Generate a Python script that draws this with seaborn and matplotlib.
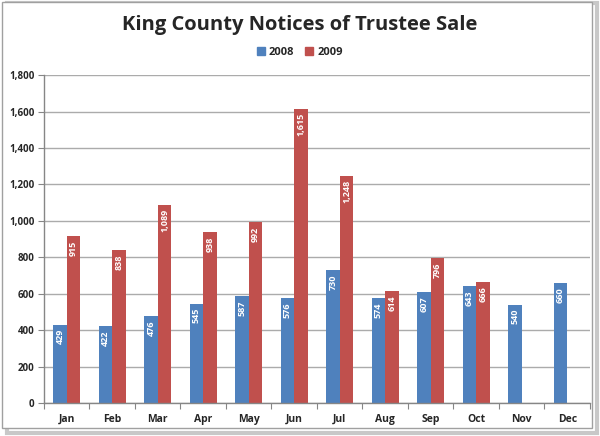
import numpy as np
import pandas as pd
import matplotlib
matplotlib.use("Agg")
import matplotlib.pyplot as plt
from matplotlib.patches import Rectangle
from matplotlib.ticker import FuncFormatter, FixedLocator
import matplotlib.transforms as mtransforms
import seaborn as sns

months = ["Jan", "Feb", "Mar", "Apr", "May", "Jun", "Jul", "Aug", "Sep", "Oct", "Nov", "Dec"]
values_2008 = [429, 422, 476, 545, 587, 576, 730, 574, 607, 643, 540, 660]
values_2009 = [915, 838, 1089, 938, 992, 1615, 1248, 614, 796, 666, np.nan, np.nan]
years = ["2008", "2009"]
colors = ["#4F81BD", "#C0504D"]

df = pd.DataFrame({
    "month": months * 2,
    "year": [years[0]] * 12 + [years[1]] * 12,
    "value": values_2008 + values_2009,
})

sns.set_theme(style="white")
plt.rcParams["font.family"] = ["Open Sans", "DejaVu Sans"]

fig = plt.figure(figsize=(6.0, 4.36), dpi=100)
ax = fig.add_axes([0.0733, 0.0757, 0.910, 0.752])

sns.barplot(data=df, x="month", y="value", hue="year", palette=colors,
            width=0.6, ax=ax, legend=False, saturation=1, edgecolor="none")

ax.set_ylim(0, 1800)
ax.set_xlim(-0.5, 11.5)
ax.set_yticks(np.arange(0, 1801, 200))
ax.yaxis.set_major_formatter(FuncFormatter(lambda v, p: f"{int(v):,}"))
ax.yaxis.grid(True, color="#ABABAB", linewidth=1.0)
ax.set_axisbelow(True)
ax.set_xlabel("")
ax.set_ylabel("")

for side in ["top", "right"]:
    ax.spines[side].set_visible(False)
for side in ["left", "bottom"]:
    ax.spines[side].set_color("#868686")
    ax.spines[side].set_linewidth(1.0)

ax.tick_params(axis="y", which="major", direction="out", length=4, width=0.8,
               color="#868686", labelsize=7, pad=3, left=True)
ax.tick_params(axis="x", which="major", length=0, labelsize=7.5, pad=8)
ax.xaxis.set_minor_locator(FixedLocator(np.arange(-0.5, 12.0, 1.0)))
ax.tick_params(axis="x", which="minor", direction="out", length=4, width=0.8,
               color="#868686", bottom=True)
for lab in ax.get_yticklabels() + ax.get_xticklabels():
    lab.set_fontweight("bold")

offset = mtransforms.offset_copy(ax.transData, fig=fig, x=0, y=-3, units="points")
for container in ax.containers:
    for patch, v in zip(container.patches, container.datavalues):
        if np.isnan(v):
            continue
        cx = patch.get_x() + patch.get_width() / 2
        ax.text(cx, patch.get_height(), f"{int(v):,}", transform=offset,
                rotation=90, color="white", fontsize=6.5, fontweight="bold",
                ha="center", va="top")

fig.suptitle("King County Notices of Trustee Sale", x=0.5, y=0.965,
             fontsize=14.5, fontweight="bold")

handles = [Rectangle((0, 0), 1, 1, color=c) for c in colors]
fig.legend(handles, years, loc="center", bbox_to_anchor=(0.5, 0.88), ncol=2,
           frameon=False, handlelength=0.7, handleheight=0.7,
           handletextpad=0.4, columnspacing=1.0, prop={"weight": "bold", "size": 8})

# frame with shadow
fig.patches.append(Rectangle((0.012, 0.008), 0.983, 0.985, transform=fig.transFigure,
                             facecolor="none", edgecolor="#C8C8C8", linewidth=3, zorder=-1))
fig.patches.append(Rectangle((0.004, 0.018), 0.983, 0.978, transform=fig.transFigure,
                             facecolor="white", edgecolor="#A0A0A0", linewidth=1, zorder=-0.5))

fig.savefig("out.png", dpi=100)
